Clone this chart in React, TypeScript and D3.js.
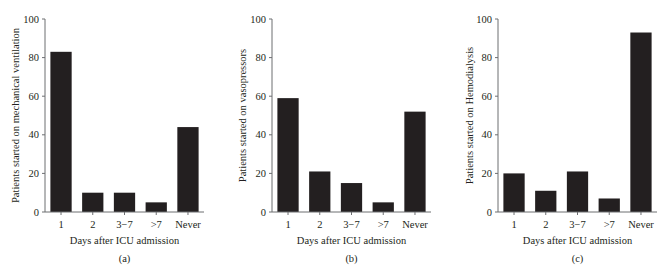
import React from "react";
import * as d3 from "d3";

const categories = ["1", "2", "3\u22127", ">7", "Never"];
const ventilation = [83, 10, 10, 5, 44];
const vasopressors = [59, 21, 15, 5, 52];
const hemodialysis = [20, 11, 21, 7, 93];
const yTicks = [0, 20, 40, 60, 80, 100];

const panels = [
  { values: ventilation, ylabel: "Patients started on mechanical ventilation", tag: "(a)", x0: 45, x1: 204, labelX: 15 },
  { values: vasopressors, ylabel: "Patients started on vasopressors", tag: "(b)", x0: 272, x1: 431, labelX: 242 },
  { values: hemodialysis, ylabel: "Patients started on Hemodialysis", tag: "(c)", x0: 498, x1: 657, labelX: 469 },
];

const FONT = "'Liberation Serif', 'DejaVu Serif', serif";
const yTop = 19;
const yBot = 212;
const axisColor = "#6d6e71";
const barColor = "#231f20";
const textColor = "#231f20";

function Panel({ p }: { p: typeof panels[number] }) {
  const x = d3.scaleBand<string>().domain(categories).range([p.x0, p.x1]).paddingInner(0.33).paddingOuter(0.17);
  const y = d3.scaleLinear().domain([0, 100]).range([yBot, yTop]);
  const cx = (p.x0 + p.x1) / 2;
  return (
    <g>
      {p.values.map((v, i) => (
        <rect key={i} x={x(categories[i])} y={y(v)} width={x.bandwidth()} height={yBot - y(v)} fill={barColor} />
      ))}
      <line x1={p.x0} x2={p.x0} y1={yTop} y2={yBot} stroke={axisColor} strokeWidth={1} />
      <line x1={p.x0} x2={p.x1} y1={yBot} y2={yBot} stroke={axisColor} strokeWidth={1} />
      {yTicks.map((t) => (
        <g key={t}>
          <line x1={p.x0 - 3} x2={p.x0} y1={y(t)} y2={y(t)} stroke={axisColor} strokeWidth={1} />
          <text x={p.x0 - 6} y={y(t)} dy="0.35em" textAnchor="end" fontSize={10.5} fill={textColor}>{t}</text>
        </g>
      ))}
      {categories.map((c) => {
        const bx = (x(c) as number) + x.bandwidth() / 2;
        return (
          <g key={c}>
            <line x1={bx} x2={bx} y1={yBot} y2={yBot + 3} stroke={axisColor} strokeWidth={1} />
            <text x={bx} y={224} dy="0.35em" textAnchor="middle" fontSize={10.5} fill={textColor}>{c}</text>
          </g>
        );
      })}
      <text x={cx} y={240} dy="0.35em" textAnchor="middle" fontSize={10.5} fill={textColor}>Days after ICU admission</text>
      <text x={cx} y={258} dy="0.35em" textAnchor="middle" fontSize={10.5} fill={textColor}>{p.tag}</text>
      <text transform={`translate(${p.labelX},${(yTop + yBot) / 2}) rotate(-90)`} dy="0.35em" textAnchor="middle" fontSize={10.5} fill={textColor}>{p.ylabel}</text>
    </g>
  );
}

export default function App() {
  return (
    <svg width={664} height={273} style={{ position: "absolute", left: 0, top: 0, fontFamily: FONT, background: "#fff" }}>
      <rect width={664} height={273} fill="#fff" />
      {panels.map((p, i) => (
        <Panel key={i} p={p} />
      ))}
    </svg>
  );
}
